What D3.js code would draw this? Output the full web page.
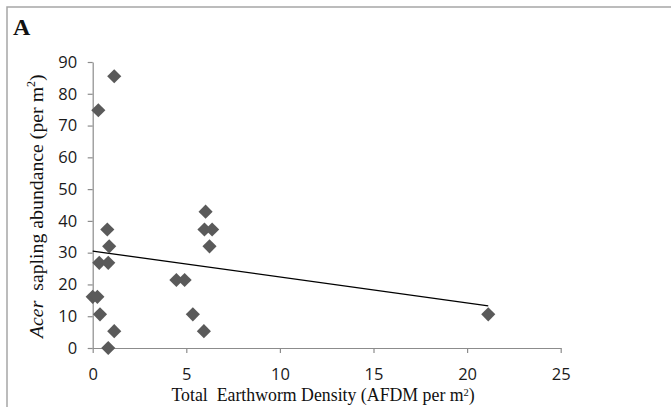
<!DOCTYPE html>
<html>
<head>
<meta charset="utf-8">
<script src="https://cdn.jsdelivr.net/npm/d3@7"></script>
<style>
  html, body { margin: 0; padding: 0; background: #fff; }
  svg { display: block; }
</style>
</head>
<body>
<svg id="chart" width="671" height="407"></svg>
<script>
// Earthworm density (AFDM per m²) vs. Acer sapling abundance (per m²)
const density = [1.15, 0.3, 0.78, 0.88, 0.35, 0.83, 0.0, 0.25, 0.39, 1.15, 0.83,
                 4.47, 4.91, 5.35, 5.94, 6.03, 5.97, 6.38, 6.24, 21.13];
const abundance = [85.5, 74.8, 37.3, 32.0, 26.8, 26.8, 16.1, 16.1, 10.6, 5.3, 0.0,
                   21.4, 21.4, 10.6, 5.3, 42.9, 37.3, 37.3, 32.0, 10.6];
const xTicks = [0, 5, 10, 15, 20, 25];
const yTicks = [0, 10, 20, 30, 40, 50, 60, 70, 80, 90];

const svg = d3.select("#chart");
const W = 671, H = 407;

// panel frame (top and left edges)
svg.append("path")
  .attr("d", `M7,${H} L7,7 L${W},7`)
  .attr("fill", "none")
  .attr("stroke", "#a6a6a6")
  .attr("stroke-width", 1.5);

svg.append("text")
  .attr("x", 13).attr("y", 35)
  .attr("font-family", "Liberation Serif, serif")
  .attr("font-weight", "bold")
  .attr("font-size", 24)
  .attr("fill", "#111")
  .text("A");

const x = d3.scaleLinear().domain([0, 25]).range([92.7, 560.7]);
const y = d3.scaleLinear().domain([0, 90]).range([348, 62]);

const axisColor = "#8c8c8c";
const tickFont = "Open Sans, sans-serif";

const gx = svg.append("g").attr("transform", `translate(0,${y(0)})`)
  .call(d3.axisBottom(x).tickValues(xTicks).tickSize(5).tickPadding(15).tickSizeOuter(0));
const gy = svg.append("g").attr("transform", `translate(${x(0)},0)`)
  .call(d3.axisLeft(y).tickValues(yTicks).tickSize(5).tickPadding(10.5).tickSizeOuter(0));

[gx, gy].forEach(g => {
  g.select(".domain").attr("stroke", axisColor).attr("stroke-width", 1.2);
  g.selectAll(".tick line").attr("stroke", axisColor).attr("stroke-width", 1.2);
  g.selectAll(".tick text")
    .attr("font-family", tickFont)
    .attr("font-size", 16.5)
    .attr("fill", "#1a1a1a");
});

// least-squares trend line
const n = density.length;
const mx = d3.mean(density), my = d3.mean(abundance);
let sxy = 0, sxx = 0;
for (let i = 0; i < n; i++) {
  sxy += (density[i] - mx) * (abundance[i] - my);
  sxx += (density[i] - mx) ** 2;
}
const slope = sxy / sxx, intercept = my - slope * mx;
const [x0, x1] = d3.extent(density);
svg.append("line")
  .attr("x1", x(x0)).attr("y1", y(intercept + slope * x0))
  .attr("x2", x(x1)).attr("y2", y(intercept + slope * x1))
  .attr("stroke", "#000")
  .attr("stroke-width", 1.3);

// diamond markers
const diamond = d3.symbol().type(d3.symbolSquare).size(100);
svg.append("g").selectAll("path")
  .data(density.map((d, i) => [d, abundance[i]]))
  .join("path")
  .attr("d", diamond)
  .attr("transform", d => `translate(${x(d[0])},${y(d[1])}) rotate(45)`)
  .attr("fill", "#5a5a5a");

// axis titles
const xt = svg.append("text")
  .attr("x", 171.5).attr("y", 401)
  .attr("font-family", "Liberation Serif, serif")
  .attr("font-size", 17.8)
  .attr("fill", "#111");
xt.append("tspan").text("Total\u00a0\u00a0Earthworm Density (AFDM per m");
xt.append("tspan").attr("font-size", 10.5).attr("dy", -5.5).text("2");
xt.append("tspan").attr("dy", 5.5).text(")");

const yt = svg.append("text")
  .attr("transform", "translate(42.5,338) rotate(-90)")
  .attr("text-anchor", "start")
  .attr("font-family", "Liberation Serif, serif")
  .attr("font-size", 19.8)
  .attr("fill", "#111");
yt.append("tspan").attr("font-style", "italic").text("Acer");
yt.append("tspan").text("\u00a0\u00a0sapling abundance (per m");
yt.append("tspan").attr("font-size", 12).attr("dy", -8).text("2");
yt.append("tspan").attr("dy", 8).text(")");
</script>
</body>
</html>
